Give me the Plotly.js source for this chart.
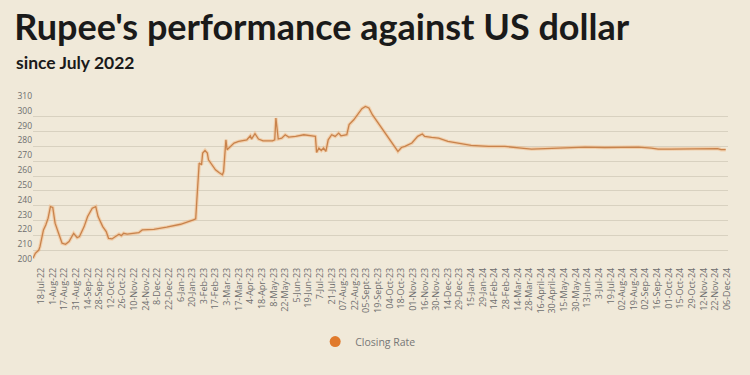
<!DOCTYPE html>
<html>
<head>
<meta charset="utf-8">
<script src="https://cdn.plot.ly/plotly-3.0.1.min.js"></script>
<style>
html,body{margin:0;padding:0;background:#f0e9d9;}
#chart{width:750px;height:375px;}
</style>
</head>
<body>
<div id="chart"></div>
<script>
// trading-day index (position along the category axis) and closing rate
const dayIndex = [0,2,5,6,9,11,13,15,17,19,22,25,28,31,35,38,40,44,47,51,54,56,60,63,65,68,71,74,76,78,81,87,91,94,104,115,127,138,140,141,142,143,145,146,148,150,151,154,157,160,163,164,166,167,170,173,177,184,187,188,191,194,198,206,208,209,211,214,217,220,226,233,240,243,244,246,248,250,252,254,257,260,263,265,270,272,276,279,283,286,289,292,314,317,320,326,331,335,337,343,349,357,363,377,392,406,420,429,435,463,475,492,503,521,532,538,549,578,589,592,596];
const closingRate = [204.5,207.9,210.1,212.4,223.7,227.0,231.6,239.4,238.8,228.2,221.4,214.7,214.0,215.8,221.4,218.5,219.2,225.9,232.7,238.3,239.4,232.7,225.9,222.5,218.0,217.6,219.2,220.8,219.8,221.4,220.8,221.6,221.8,223.7,224.1,225.5,227.5,230.4,231.1,244.0,259.7,268.8,267.6,275.5,277.3,275.5,271.0,267.6,264.2,262.4,260.9,263.1,284.5,277.8,280.0,282.3,283.4,284.5,287.2,285.0,288.6,285.0,283.8,283.8,284.5,299.2,285.0,285.6,287.9,286.3,286.8,287.9,287.2,286.8,276.0,278.9,277.3,278.9,276.6,284.5,287.9,286.8,289.0,287.2,287.9,294.7,298.0,301.4,305.5,307.0,306.0,301.4,276.6,279.3,280.0,282.3,286.8,288.4,286.8,286.1,285.6,283.4,282.7,280.7,280.0,280.0,278.9,278.2,278.4,278.9,279.6,279.3,279.6,279.6,278.9,278.2,278.2,278.2,278.6,277.8,277.8];

const tickLabels = ["18-Jul-22","1-Aug-22","17-Aug-22","31-Aug-22","14-Sep-22","28-Sep-22","12-Oct-22","26-Oct-22","10-Nov-22","24-Nov-22","8-Dec-22","22-Dec-22","6-Jan-23","20-Jan-23","3-Feb-23","17-Feb-23","3-Mar-23","17-Mar-23","4-Apr-23","18-Apr-23","8-May-23","22-May-23","5-Jun-23","19-Jun-23","7-Jul-23","21-Jul-23","07-Aug-23","22-Aug-23","05-Sept-23","19-Sept-23","04-Oct-23","18-Oct-23","01-Nov-23","16-Nov-23","30-Nov-23","14-Dec-23","29-Dec-23","15-Jan-24","29-Jan-24","14-Feb-24","28-Feb-24","14-Mar-24","28-Mar-24","16-April-24","30-April-24","15-May-24","30-May-24","13-Jun-24","3-Jul-24","19-Jul-24","02-Aug-24","19-Aug-24","02-Sep-24","16-Sep-24","01-Oct-24","15-Oct-24","29-Oct-24","12-Nov-24","22-Nov-24","06-Dec-24"];
const tickIndex = tickLabels.map((_, i) => 7 + 10 * i);
const yTicks = [200,210,220,230,240,250,260,270,280,290,300,310];

const traces = [
  {x: dayIndex, y: closingRate, type: 'scatter', mode: 'lines', showlegend: false, hoverinfo: 'skip',
   line: {color: 'rgba(245,175,115,0.45)', width: 3.5}},
  {x: dayIndex, y: closingRate, type: 'scatter', mode: 'lines', showlegend: false, name: 'Closing Rate',
   line: {color: '#c8834c', width: 1.3}},
  {x: [null], y: [null], type: 'scatter', mode: 'markers', name: 'Closing Rate',
   marker: {color: '#e07a2c', size: 11}}
];

const layout = {
  width: 750, height: 375,
  paper_bgcolor: '#f0e9d9', plot_bgcolor: '#f0e9d9',
  margin: {l: 33, r: 22, t: 102, b: 110},
  font: {family: 'Lato, "Open Sans", sans-serif', color: '#6b6b6b'},
  title: {text: "Rupee's performance against US dollar", x: 0.019, xanchor: 'left',
          y: 0.96, yanchor: 'top', yref: 'container',
          font: {family: 'Lato', size: 36, color: '#1a1a1a', weight: 'bold'}},
  annotations: [{text: 'since July 2022', xref: 'paper', yref: 'paper', x: -0.027, xanchor: 'left',
                 y: 1.245, yanchor: 'middle', showarrow: false,
                 font: {family: 'Lato', size: 17.5, color: '#1a1a1a', weight: 'bold'}}],
  xaxis: {range: [0, 598], tickmode: 'array', tickvals: tickIndex, ticktext: tickLabels, tickangle: -90,
          showgrid: false, zeroline: false, showline: false, ticks: '', fixedrange: true,
          tickfont: {family: '"Open Sans", sans-serif', size: 9, color: '#6e6e6e'}},
  yaxis: {range: [200, 310], tickmode: 'array', tickvals: yTicks, ticks: '', showline: false, zeroline: false,
          gridcolor: '#d8d1c0', gridwidth: 1, ticklabelposition: 'outside top',
          tickfont: {family: '"Open Sans", sans-serif', size: 8.5, color: '#6e6e6e'}},
  legend: {orientation: 'h', x: 0.406, xanchor: 'left', y: -0.47, yanchor: 'middle', itemwidth: 30,
           font: {family: '"Open Sans", sans-serif', size: 10.5, color: '#777'}, bgcolor: 'rgba(0,0,0,0)'},
  showlegend: true
};

Plotly.newPlot('chart', traces, layout, {displayModeBar: false, staticPlot: true});
</script>
</body>
</html>
